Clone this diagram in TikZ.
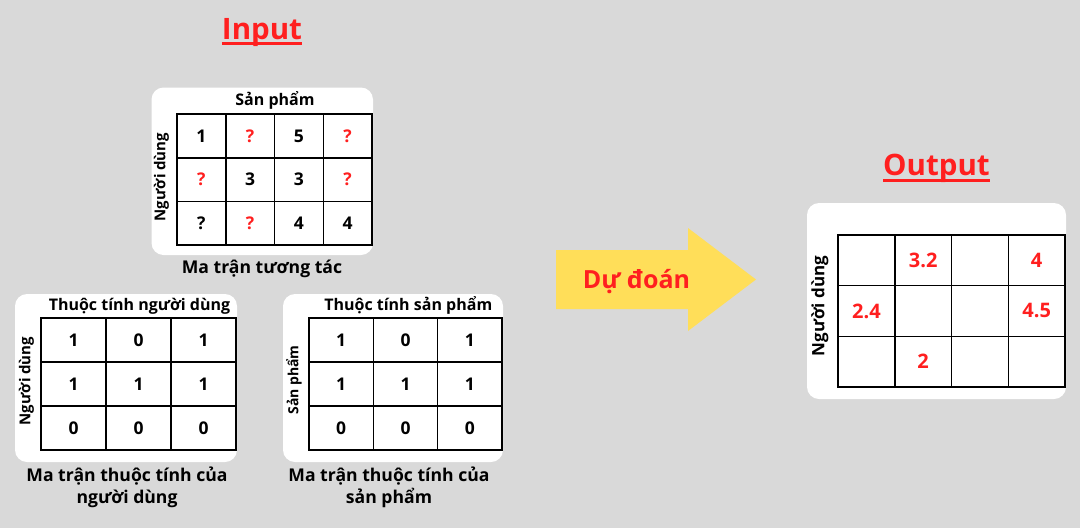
\documentclass[tikz,border=0pt]{standalone}
\usepackage{fontspec}
\setmainfont{Open Sans}
\definecolor{bggray}{HTML}{D9D9D9}
\definecolor{arrowyellow}{HTML}{FFDE59}
\definecolor{predred}{HTML}{FF1F1F}
\tikzset{
  panel/.style={fill=white, rounded corners=12pt, inner sep=0pt},
  cell/.style={draw, line width=1.5pt, inner sep=0pt, font=\bfseries\fontsize{17.5}{20}\selectfont},
  icell/.style={cell, minimum width=48.75pt, minimum height=43.67pt},
  ucell/.style={cell, minimum width=65pt, minimum height=44pt},
  pcell/.style={cell, minimum width=64.33pt, minimum height=44pt},
  ocell/.style={cell, minimum width=56.75pt, minimum height=50.67pt, text=predred, font=\bfseries\fontsize{20}{22}\selectfont},
  header/.style={inner sep=0pt, font=\bfseries\fontsize{16}{18}\selectfont},
  side/.style={inner sep=0pt, rotate=90, font=\bfseries\fontsize{15}{17}\selectfont},
  caption/.style={inner sep=0pt, align=center, font=\bfseries\fontsize{17.6}{22}\selectfont},
  title/.style={inner sep=0pt, text=predred, font=\bfseries\fontsize{29.5}{32}\selectfont},
  titleline/.style={predred, line width=2.5pt},
}
\begin{document}
\begin{tikzpicture}[x=1pt, y=-1pt]
    \fill[bggray] (0,0) rectangle (1080,528);
    \useasboundingbox (0,0) rectangle (1080,528);
    % titles
    \node[title, anchor=base] (In) at (262,39.3) {Input};
    \draw[titleline] ([yshift=-4pt]In.base west) -- ([yshift=-4pt]In.base east);
    \node[title, anchor=base] (Out) at (936.5,175.5) {Output};
    \draw[titleline] ([yshift=-5pt]Out.base west) -- ([yshift=-5pt]Out.base east);
    % interaction matrix
    \node[panel, minimum width=221.5pt, minimum height=167.5pt] (Tp) at (262.25,171.25) {};
    \node[header, anchor=base] (Th) at (275,105) {Sản phẩm};
    \node[side] (Ts) at (161.5,177) {Người dùng};
    \def\x{48.75}
    \def\y{43.67}
    \node[icell] (T0_0) at (201.4+0*\x, 136+0*\y) {1};
    \node[icell, text=predred] (T0_1) at (201.4+1*\x, 136+0*\y) {?};
    \node[icell] (T0_2) at (201.4+2*\x, 136+0*\y) {5};
    \node[icell, text=predred] (T0_3) at (201.4+3*\x, 136+0*\y) {?};
    \node[icell, text=predred] (T1_0) at (201.4+0*\x, 136+1*\y) {?};
    \node[icell] (T1_1) at (201.4+1*\x, 136+1*\y) {3};
    \node[icell] (T1_2) at (201.4+2*\x, 136+1*\y) {3};
    \node[icell, text=predred] (T1_3) at (201.4+3*\x, 136+1*\y) {?};
    \node[icell] (T2_0) at (201.4+0*\x, 136+2*\y) {?};
    \node[icell, text=predred] (T2_1) at (201.4+1*\x, 136+2*\y) {?};
    \node[icell] (T2_2) at (201.4+2*\x, 136+2*\y) {4};
    \node[icell] (T2_3) at (201.4+3*\x, 136+2*\y) {4};
    \node[caption, anchor=base] (Tc) at (262,273.3) {Ma trận tương tác};
    % user features
    \node[panel, minimum width=222pt, minimum height=168pt] (Up) at (126,378) {};
    \node[header, anchor=base] (Uh) at (139.5,310) {Thuộc tính người dùng};
    \node[side] (Us) at (26.5,381) {Người dùng};
    \def\x{65}
    \def\y{44}
    \node[ucell] (U0_0) at (73.5+0*\x, 340+0*\y) {1};
    \node[ucell] (U0_1) at (73.5+1*\x, 340+0*\y) {0};
    \node[ucell] (U0_2) at (73.5+2*\x, 340+0*\y) {1};
    \node[ucell] (U1_0) at (73.5+0*\x, 340+1*\y) {1};
    \node[ucell] (U1_1) at (73.5+1*\x, 340+1*\y) {1};
    \node[ucell] (U1_2) at (73.5+2*\x, 340+1*\y) {1};
    \node[ucell] (U2_0) at (73.5+0*\x, 340+2*\y) {0};
    \node[ucell] (U2_1) at (73.5+1*\x, 340+2*\y) {0};
    \node[ucell] (U2_2) at (73.5+2*\x, 340+2*\y) {0};
    \node[caption, anchor=base] (Uc) at (127,503.3) {Ma trận thuộc tính của\\người dùng};
    % item features
    \node[panel, minimum width=220pt, minimum height=168pt] (Pp) at (393,378) {};
    \node[header, anchor=base] (Ph) at (408.3,310) {Thuộc tính sản phẩm};
    \node[side, font=\bfseries\fontsize{14}{16}\selectfont] (Ps) at (294,380) {Sản phẩm};
    \def\x{64.33}
    \def\y{44}
    \node[pcell] (P0_0) at (341.2+0*\x, 340+0*\y) {1};
    \node[pcell] (P0_1) at (341.2+1*\x, 340+0*\y) {0};
    \node[pcell] (P0_2) at (341.2+2*\x, 340+0*\y) {1};
    \node[pcell] (P1_0) at (341.2+0*\x, 340+1*\y) {1};
    \node[pcell] (P1_1) at (341.2+1*\x, 340+1*\y) {1};
    \node[pcell] (P1_2) at (341.2+2*\x, 340+1*\y) {1};
    \node[pcell] (P2_0) at (341.2+0*\x, 340+2*\y) {0};
    \node[pcell] (P2_1) at (341.2+1*\x, 340+2*\y) {0};
    \node[pcell] (P2_2) at (341.2+2*\x, 340+2*\y) {0};
    \node[caption, anchor=base] (Pc) at (389,503.3) {Ma trận thuộc tính của\\sản phẩm};
    % predict arrow
    \fill[arrowyellow] (556,250) -- (688,250) -- (688,228) -- (756,279.5)
      -- (688,331) -- (688,309) -- (556,309) -- cycle;
    \node[inner sep=0pt, text=predred, font=\bfseries\fontsize{25}{27}\selectfont, anchor=base] (Pred) at (636.5,288.3) {Dự đoán};
    % output matrix
    \node[panel, minimum width=259pt, minimum height=196pt] (Op) at (936.5,301) {};
    \node[side, font=\bfseries\fontsize{17}{19}\selectfont] (Os) at (820,306) {Người dùng};
    \def\x{56.75}
    \def\y{50.67}
    \node[ocell] (O0_0) at (866.4+0*\x, 260.3+0*\y) {};
    \node[ocell] (O0_1) at (866.4+1*\x, 260.3+0*\y) {3.2};
    \node[ocell] (O0_2) at (866.4+2*\x, 260.3+0*\y) {};
    \node[ocell] (O0_3) at (866.4+3*\x, 260.3+0*\y) {4};
    \node[ocell] (O1_0) at (866.4+0*\x, 260.3+1*\y) {2.4};
    \node[ocell] (O1_1) at (866.4+1*\x, 260.3+1*\y) {};
    \node[ocell] (O1_2) at (866.4+2*\x, 260.3+1*\y) {};
    \node[ocell] (O1_3) at (866.4+3*\x, 260.3+1*\y) {4.5};
    \node[ocell] (O2_0) at (866.4+0*\x, 260.3+2*\y) {};
    \node[ocell] (O2_1) at (866.4+1*\x, 260.3+2*\y) {2};
    \node[ocell] (O2_2) at (866.4+2*\x, 260.3+2*\y) {};
    \node[ocell] (O2_3) at (866.4+3*\x, 260.3+2*\y) {};
  \end{tikzpicture}
\end{document}
